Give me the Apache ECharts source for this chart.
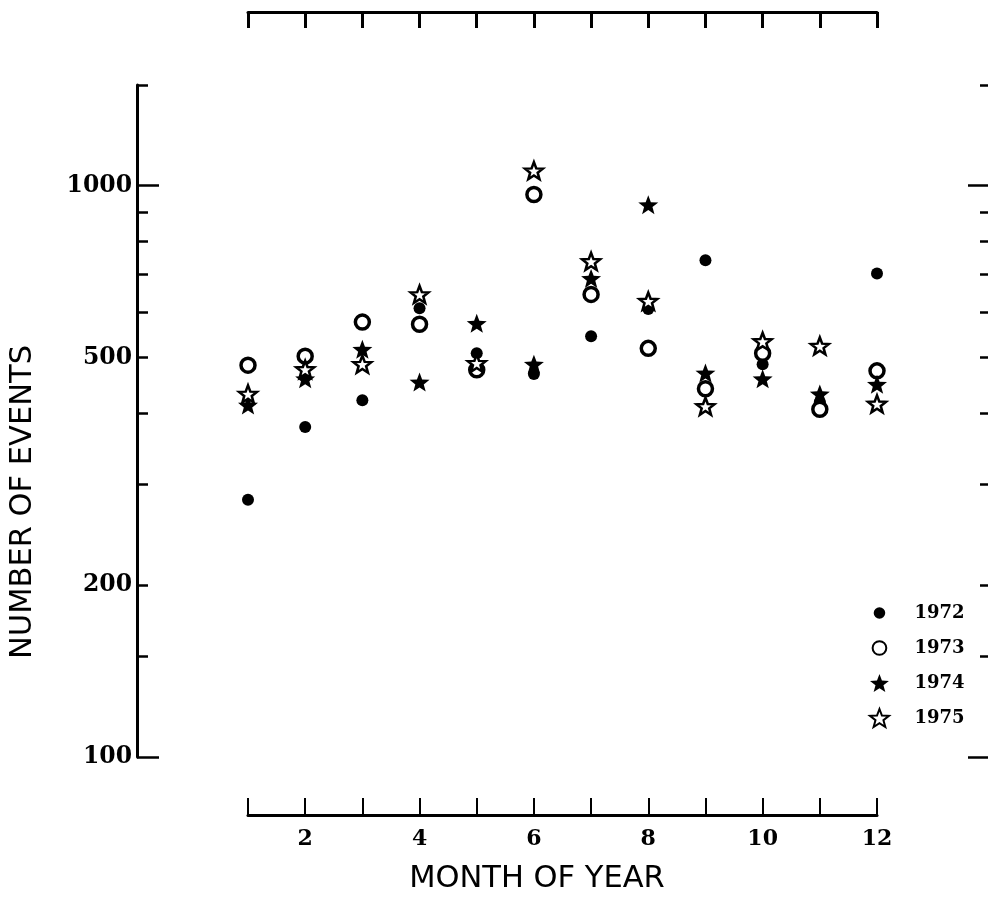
<!DOCTYPE html>
<html>
<head>
<meta charset="utf-8">
<script src="https://cdn.jsdelivr.net/npm/echarts@6/dist/echarts.min.js"></script>
<style>
  html, body { margin: 0; padding: 0; background: #fff; }
  #chart { width: 988px; height: 910px; }
</style>
</head>
<body>
<div id="chart"></div>
<script>
// Monthly event counts, 1972-1975
const months = [1, 2, 3, 4, 5, 6, 7, 8, 9, 10, 11, 12];
const years = ['1972', '1973', '1974', '1975'];
const events1972 = [282, 378, 421, 610, 509, 468, 545, 608, 740, 487, 418, 702];
const events1973 = [485, 503, 577, 572, 476, 965, 645, 519, 441, 509, 406, 474];
const events1974 = [413, 459, 517, 453, 574, 487, 688, 926, 470, 459, 432, 449];
const events1975 = [432, 477, 487, 645, 489, 1062, 737, 628, 411, 534, 524, 415];

// Tick positions on the logarithmic count axis
const decadeTicks = [100, 1000];
const minorTicks = [150, 200, 300, 400, 500, 600, 700, 800, 900, 1500];
const countLabels = [100, 200, 500, 1000];
const monthLabels = [2, 4, 6, 8, 10, 12];

const STAR = 'path://M50 0 L62.35 33.01 L97.55 34.55 L69.97 56.49 L79.39 90.45 L50 71 L20.61 90.45 L30.03 56.49 L2.45 34.55 L37.65 33.01 Z';
// Legend keys: circles padded inside a 100x100 box so they render smaller than the stars
const DOT_KEY = 'path://M0 0 M100 100 M82 50 A32 32 0 1 1 18 50 A32 32 0 1 1 82 50 Z';
const RING_KEY = 'path://M0 0 M100 100 M88 50 A38 38 0 1 1 12 50 A38 38 0 1 1 88 50 Z';

const INK = '#000';
const serifBold = { fontFamily: '"DejaVu Serif"', fontWeight: 'bold', color: INK };

function pairs(values) {
  return months.map((m, i) => [m, values[i]]);
}

function countAxis(position, offset, ticks, tickLen, showLine, labels) {
  return {
    type: 'log',
    logBase: 10,
    min: 100,
    max: 1500,
    position: position,
    offset: offset,
    axisLine: { show: showLine, lineStyle: { color: INK, width: 3 } },
    axisTick: {
      show: true, inside: true, length: tickLen, customValues: ticks,
      lineStyle: { color: INK, width: 2.5 }
    },
    axisLabel: labels
      ? Object.assign({
          show: true, customValues: labels, fontSize: 23.5, margin: 5,
          formatter: v => String(Math.round(v))
        }, serifBold)
      : { show: false },
    splitLine: { show: false },
    minorTick: { show: false },
    minorSplitLine: { show: false }
  };
}

const chart = echarts.init(document.getElementById('chart'), null, { renderer: 'canvas' });

chart.setOption({
  backgroundColor: '#fff',
  animation: false,
  grid: {
    left: 248, right: 111, top: 85, bottom: 153,
    containLabel: false,
    outerBoundsMode: 'none'
  },
  xAxis: [
    {
      type: 'value', min: 1, max: 12, interval: 1,
      position: 'bottom', offset: 58,
      axisLine: { show: true, lineStyle: { color: INK, width: 3 } },
      axisTick: { show: true, inside: true, length: 17, lineStyle: { color: INK, width: 2 } },
      axisLabel: Object.assign({ show: true, customValues: monthLabels, fontSize: 22, margin: 13 }, serifBold),
      splitLine: { show: false }
    },
    {
      type: 'value', min: 1, max: 12, interval: 1,
      position: 'top', offset: 73,
      axisLine: { show: true, lineStyle: { color: INK, width: 3 } },
      axisTick: { show: true, inside: true, length: 16, lineStyle: { color: INK, width: 3 } },
      axisLabel: { show: false },
      splitLine: { show: false }
    }
  ],
  yAxis: [
    countAxis('left', 111, decadeTicks, 22, true, countLabels),
    countAxis('left', 111, minorTicks, 11, false, null),
    countAxis('right', 113, decadeTicks, 22, false, null),
    countAxis('right', 113, minorTicks, 10, false, null)
  ],
  legend: {
    data: [
      { name: years[0], icon: DOT_KEY },
      { name: years[1], icon: RING_KEY },
      { name: years[2] },
      { name: years[3] }
    ],
    orient: 'vertical',
    left: 864,
    top: 599,
    itemWidth: 60,
    itemHeight: 18,
    itemGap: 16,
    symbolKeepAspect: true,
    textStyle: Object.assign({ fontSize: 18 }, serifBold)
  },
  series: [
    {
      name: '1972', type: 'scatter', data: pairs(events1972),
      symbol: 'circle', symbolSize: 12,
      itemStyle: { color: INK, opacity: 1 }
    },
    {
      name: '1973', type: 'scatter', data: pairs(events1973),
      symbol: 'circle', symbolSize: 14,
      itemStyle: { color: '#fff', borderColor: INK, borderWidth: 3.5, opacity: 1 }
    },
    {
      name: '1974', type: 'scatter', data: pairs(events1974),
      symbol: STAR, symbolSize: [20, 19],
      itemStyle: { color: INK, opacity: 1 }
    },
    {
      name: '1975', type: 'scatter', data: pairs(events1975),
      symbol: STAR, symbolSize: [18, 17],
      itemStyle: { color: '#fff', borderColor: INK, borderWidth: 2.5, opacity: 1 }
    }
  ],
  graphic: [
    {
      type: 'text', x: 537, y: 879,
      style: { text: 'MONTH OF YEAR', align: 'center', verticalAlign: 'middle',
        font: '30.5px "DejaVu Sans"', fill: INK }
    },
    {
      type: 'text', x: 23, y: 502, rotation: Math.PI / 2,
      style: { text: 'NUMBER OF EVENTS', align: 'center', verticalAlign: 'middle',
        font: '30.5px "DejaVu Sans"', fill: INK }
    }
  ]
});
</script>
</body>
</html>
